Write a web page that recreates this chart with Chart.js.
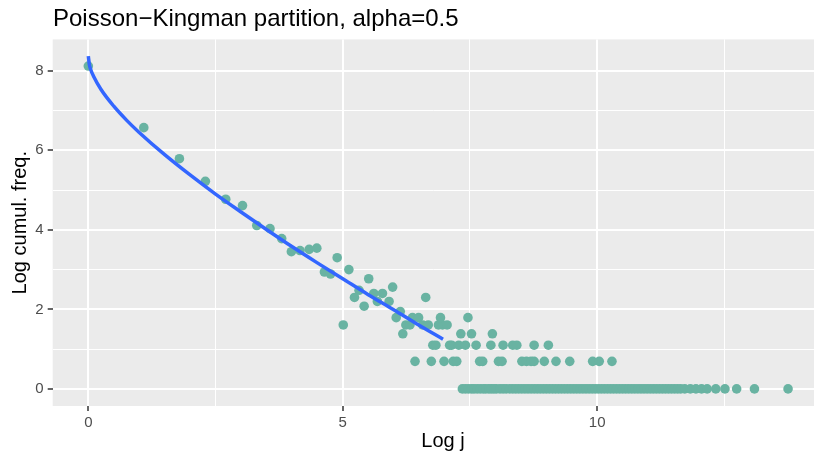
<!DOCTYPE html>
<html>
<head>
<meta charset="utf-8">
<script src="https://cdn.jsdelivr.net/npm/chart.js@4.4.0/dist/chart.umd.min.js"></script>
<style>
  html, body { margin: 0; padding: 0; background: #ffffff; }
</style>
</head>
<body>
<canvas id="ScatterChart" width="814" height="459"></canvas>
<script>
// points above the discrete rows (log j, log cumulative freq.)
const upperX = [0.0, 1.09, 1.79, 2.30, 2.70, 3.03, 3.31, 3.57, 3.80, 3.99, 4.16, 4.34, 4.49,
  4.89, 4.64, 4.76, 5.12, 5.51, 5.98, 5.32, 5.23, 5.42, 5.61, 5.78, 5.68, 5.91, 6.63];
const upperY = [8.12, 6.57, 5.79, 5.22, 4.77, 4.61, 4.11, 4.03, 3.78, 3.45, 3.48, 3.51, 3.54,
  3.30, 2.94, 2.89, 3.00, 2.77, 2.56, 2.48, 2.30, 2.08, 2.40, 2.40, 2.20, 2.20, 2.30];

// discrete rows: y = log(1), log(2), ... log(7)
const rowLevels = [0, 0.693, 1.099, 1.386, 1.609, 1.792, 1.946];
const rowX = [
  [7.35, 7.41, 7.47, 7.53, 7.58, 7.64, 7.70, 7.76, 7.81, 7.87, 7.92, 7.97, 8.02, 8.09, 8.15,
   8.21, 8.28, 8.34, 8.40, 8.46, 8.52, 8.58, 8.64, 8.70, 8.76, 8.82, 8.88, 8.94, 9.00, 9.06,
   9.12, 9.18, 9.24, 9.30, 9.36, 9.42, 9.48, 9.54, 9.60, 9.66, 9.72, 9.78, 9.84, 9.90, 9.96,
   10.02, 10.08, 10.14, 10.20, 10.26, 10.32, 10.38, 10.44, 10.50, 10.56, 10.62, 10.68, 10.74,
   10.80, 10.86, 10.92, 10.98, 11.04, 11.10, 11.16, 11.22, 11.28, 11.34, 11.40, 11.46, 11.52,
   11.58, 11.64, 11.72, 11.83, 11.94, 12.05, 12.16, 12.33, 12.51, 12.74, 13.09, 13.75],
  [6.42, 6.74, 6.99, 7.17, 7.24, 7.69, 7.75, 8.06, 8.13, 8.52, 8.61, 8.70, 8.76, 8.96, 9.19,
   9.46, 9.91, 10.04, 10.29],
  [6.77, 6.83, 7.10, 7.14, 7.28, 7.41, 7.62, 7.91, 8.15, 8.34, 8.42, 8.76, 9.04],
  [6.18, 7.32, 7.53, 7.94],
  [5.01, 6.24, 6.32, 6.57, 6.68, 6.88, 6.96, 7.05],
  [6.05, 6.37, 6.49, 6.92, 7.46],
  [6.13]
];

// fitted curve
const fitX = [0, 0.02, 0.05, 0.1, 0.25, 0.5, 0.75, 1, 1.5, 2, 2.5, 3, 3.5, 4, 4.5, 5, 5.5, 6, 6.5, 6.97];
const fitY = [8.37, 8.16, 8.02, 7.87, 7.53, 7.11, 6.76, 6.45, 5.89, 5.38, 4.90, 4.45, 4.01, 3.58,
  3.17, 2.77, 2.37, 1.99, 1.60, 1.25];

const xTicks = [0, 2.5, 5, 7.5, 10, 12.5];
const xMajor = [0, 5, 10];
const yTicks = [0, 1, 2, 3, 4, 5, 6, 7, 8];
const yMajor = [0, 2, 4, 6, 8];

const FONT = "'Liberation Sans', Arial, Helvetica, sans-serif";

const points = upperX.map((x, i) => ({ x: x, y: upperY[i] }));
rowX.forEach((xs, r) => xs.forEach(x => points.push({ x: x, y: rowLevels[r] })));
const fitLine = fitX.map((x, i) => ({ x: x, y: fitY[i] }));

const panelBg = {
  id: "panelBg",
  beforeDraw(chart) {
    const { ctx, chartArea: a } = chart;
    ctx.save();
    ctx.fillStyle = "#EBEBEB";
    ctx.fillRect(a.left, a.top, a.right - a.left, a.bottom - a.top);
    ctx.restore();
  },
};

const labels = {
  id: "labels",
  afterDraw(chart) {
    const { ctx, chartArea: a } = chart;
    ctx.save();
    ctx.fillStyle = "#000000";
    ctx.font = "24px " + FONT;
    ctx.textAlign = "left";
    ctx.textBaseline = "alphabetic";
    ctx.fillText("Poisson\u2212Kingman partition, alpha=0.5", 53, 26);

    ctx.font = "20px " + FONT;
    ctx.textAlign = "center";
    ctx.textBaseline = "middle";
    ctx.fillText("Log j", 443, 441);

    ctx.translate(20, (a.top + a.bottom) / 2);
    ctx.rotate(-Math.PI / 2);
    ctx.fillText("Log cumul. freq.", 0, 0);
    ctx.restore();
  },
};

const ctx = document.getElementById("ScatterChart").getContext("2d");

const chart = new Chart(ctx, {
  type: "scatter",
  data: {
    datasets: [
      {
        type: "line",
        data: fitLine,
        borderColor: "#3366FF",
        borderWidth: 3.5,
        pointRadius: 0,
        fill: false,
        cubicInterpolationMode: "monotone",
        order: 1,
      },
      {
        data: points,
        backgroundColor: "#69B3A2",
        borderWidth: 0,
        pointRadius: 4.8,
        order: 2,
      },
    ],
  },
  options: {
    responsive: false,
    devicePixelRatio: 1,
    animation: false,
    events: [],
    layout: { padding: { top: 39.4, left: 0, right: 0, bottom: 0 }, autoPadding: false },
    plugins: {
      legend: { display: false },
      tooltip: { enabled: false },
    },
    scales: {
      x: {
        type: "linear",
        min: -0.70,
        max: 14.26,
        afterBuildTicks: (s) => { s.ticks = xTicks.map((v) => ({ value: v })); },
        afterFit: (s) => { s.height = 53; },
        border: { display: false },
        grid: {
          color: "#FFFFFF",
          lineWidth: (c) => (xMajor.includes(c.tick.value) ? 2 : 1),
          tickColor: (c) => (xMajor.includes(c.tick.value) ? "#333333" : "rgba(0,0,0,0)"),
          tickLength: 5,
          tickWidth: 1.5,
        },
        ticks: {
          autoSkip: false,
          maxRotation: 0,
          padding: 3,
          color: "#4D4D4D",
          font: { size: 15, family: FONT },
          callback: (v) => (xMajor.includes(v) ? String(v) : ""),
        },
      },
      y: {
        type: "linear",
        min: -0.43,
        max: 8.79,
        afterBuildTicks: (s) => { s.ticks = yTicks.map((v) => ({ value: v })); },
        afterFit: (s) => { s.width = 52.7; },
        border: { display: false },
        grid: {
          color: "#FFFFFF",
          lineWidth: (c) => (yMajor.includes(c.tick.value) ? 2 : 1),
          tickColor: (c) => (yMajor.includes(c.tick.value) ? "#333333" : "rgba(0,0,0,0)"),
          tickLength: 5,
          tickWidth: 1.5,
        },
        ticks: {
          autoSkip: false,
          padding: 4,
          color: "#4D4D4D",
          font: { size: 15, family: FONT },
          callback: (v) => (yMajor.includes(v) ? String(v) : ""),
        },
      },
    },
  },
  plugins: [panelBg, labels],
});
</script>
</body>
</html>
